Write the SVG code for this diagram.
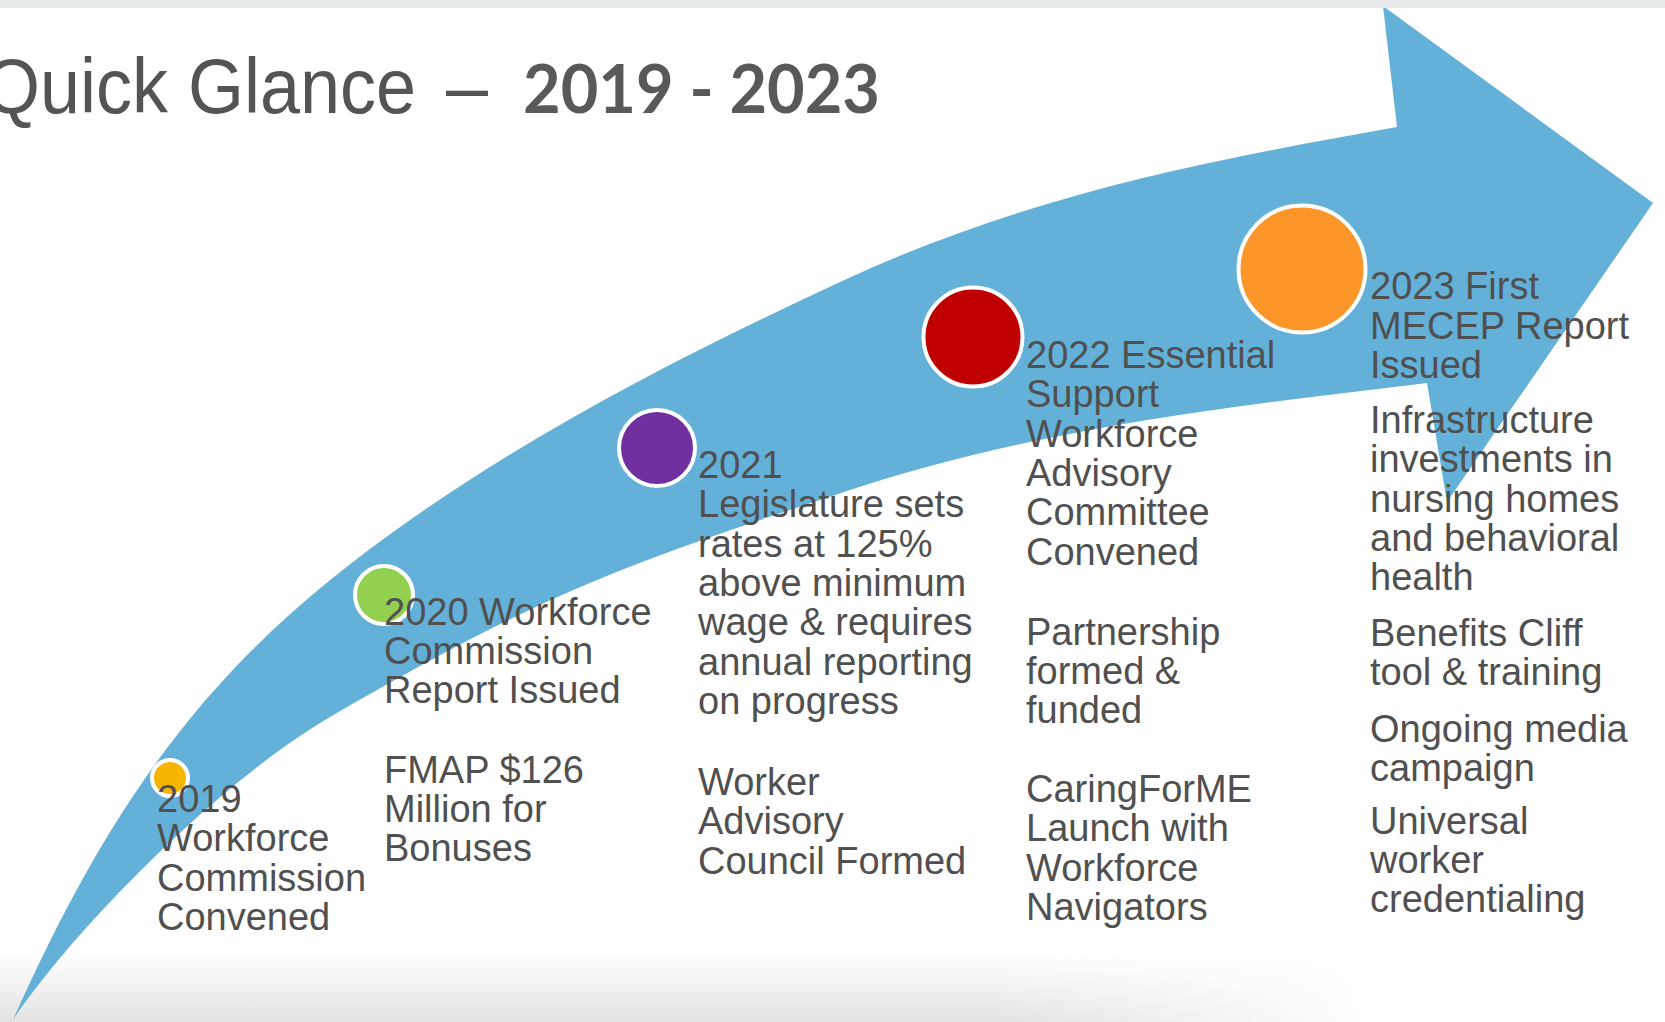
<svg xmlns="http://www.w3.org/2000/svg" width="1665" height="1022" viewBox="0 0 1665 1022">
<defs>
<style>
.t{font-family:"Liberation Sans",Arial,sans-serif;font-size:38px;fill:#505050}
.dot{stroke:#ffffff;stroke-width:4}
</style>
<linearGradient id="shadeV" x1="0" y1="0" x2="0" y2="1">
<stop offset="0" stop-color="#e4e4e4" stop-opacity="0"/>
<stop offset="1" stop-color="#e2e2e2" stop-opacity="1"/>
</linearGradient>
<linearGradient id="fadeH" x1="0" y1="0" x2="1" y2="0">
<stop offset="0" stop-color="#fff"/>
<stop offset="0.6" stop-color="#fff"/>
<stop offset="0.82" stop-color="#000"/>
</linearGradient>
<mask id="m1"><rect x="0" y="940" width="1665" height="82" fill="url(#fadeH)"/></mask>
</defs>
<rect width="1665" height="1022" fill="#ffffff"/>
<rect x="0" y="955" width="1665" height="67" fill="url(#shadeV)" mask="url(#m1)"/>
<g id="connectors">
<path id="arrow" fill="#63b0d9" d="M13,1020 C123,773 230,646 410,520 C553,420 697,349 840,282 C1026,195 1211,160 1397,127 L1383,6 L1653,203 L1447,502 L1427,383 C1235,406 1042,427 850,490 C630,563 550,589 330,717 C220,781 73,930 13,1020 Z"/>
</g>
<rect x="0" y="0" width="1665" height="8" fill="#e6eaea"/>
<g id="title">
<text font-family="'Liberation Sans',Arial,sans-serif" font-size="77" fill="#545454"><tspan x="-16" y="113" textLength="432" lengthAdjust="spacingAndGlyphs">Quick Glance</tspan><tspan x="446" y="113" textLength="42" lengthAdjust="spacingAndGlyphs">–</tspan></text>
<text x="523" y="113" font-family="Lato,'Liberation Sans',sans-serif" font-weight="bold" font-size="66" fill="#595959" textLength="357" lengthAdjust="spacingAndGlyphs">2019 - 2023</text>
</g>
<g id="node-2019">
<circle class="dot" cx="170" cy="778" r="18" fill="#f6b500"/>
<text class="t"><tspan x="157" y="812">2019</tspan><tspan x="157" y="851">Workforce</tspan><tspan x="157" y="891">Commission</tspan><tspan x="157" y="930">Convened</tspan></text>
</g>
<g id="node-2020">
<circle class="dot" cx="384" cy="595" r="29" fill="#92d050"/>
<text class="t"><tspan x="384" y="625">2020 Workforce</tspan><tspan x="384" y="664">Commission</tspan><tspan x="384" y="703">Report Issued</tspan><tspan x="384" y="783">FMAP $126</tspan><tspan x="384" y="822">Million for</tspan><tspan x="384" y="861">Bonuses</tspan></text>
</g>
<g id="node-2021">
<circle class="dot" cx="657" cy="448" r="38" fill="#7030a0"/>
<text class="t"><tspan x="698" y="478">2021</tspan><tspan x="698" y="517">Legislature sets</tspan><tspan x="698" y="557">rates at 125%</tspan><tspan x="698" y="596">above minimum</tspan><tspan x="698" y="635">wage &amp; requires</tspan><tspan x="698" y="675">annual reporting</tspan><tspan x="698" y="714">on progress</tspan><tspan x="698" y="795">Worker</tspan><tspan x="698" y="834">Advisory</tspan><tspan x="698" y="874">Council Formed</tspan></text>
</g>
<g id="node-2022">
<circle class="dot" cx="973" cy="337" r="49.5" fill="#c00000"/>
<text class="t"><tspan x="1026" y="368">2022 Essential</tspan><tspan x="1026" y="407">Support</tspan><tspan x="1026" y="447">Workforce</tspan><tspan x="1026" y="486">Advisory</tspan><tspan x="1026" y="525">Committee</tspan><tspan x="1026" y="565">Convened</tspan><tspan x="1026" y="645">Partnership</tspan><tspan x="1026" y="684">formed &amp;</tspan><tspan x="1026" y="723">funded</tspan><tspan x="1026" y="802">CaringForME</tspan><tspan x="1026" y="841">Launch with</tspan><tspan x="1026" y="881">Workforce</tspan><tspan x="1026" y="920">Navigators</tspan></text>
</g>
<g id="node-2023">
<circle class="dot" cx="1302" cy="269" r="63.5" fill="#fd9629"/>
<text class="t"><tspan x="1370" y="299">2023 First</tspan><tspan x="1370" y="339">MECEP Report</tspan><tspan x="1370" y="378">Issued</tspan><tspan x="1370" y="433">Infrastructure</tspan><tspan x="1370" y="472">investments in</tspan><tspan x="1370" y="512">nursing homes</tspan><tspan x="1370" y="551">and behavioral</tspan><tspan x="1370" y="590">health</tspan><tspan x="1370" y="646">Benefits Cliff</tspan><tspan x="1370" y="685">tool &amp; training</tspan><tspan x="1370" y="742">Ongoing media</tspan><tspan x="1370" y="781">campaign</tspan><tspan x="1370" y="834">Universal</tspan><tspan x="1370" y="873">worker</tspan><tspan x="1370" y="912">credentialing</tspan></text>
</g>
</svg>
